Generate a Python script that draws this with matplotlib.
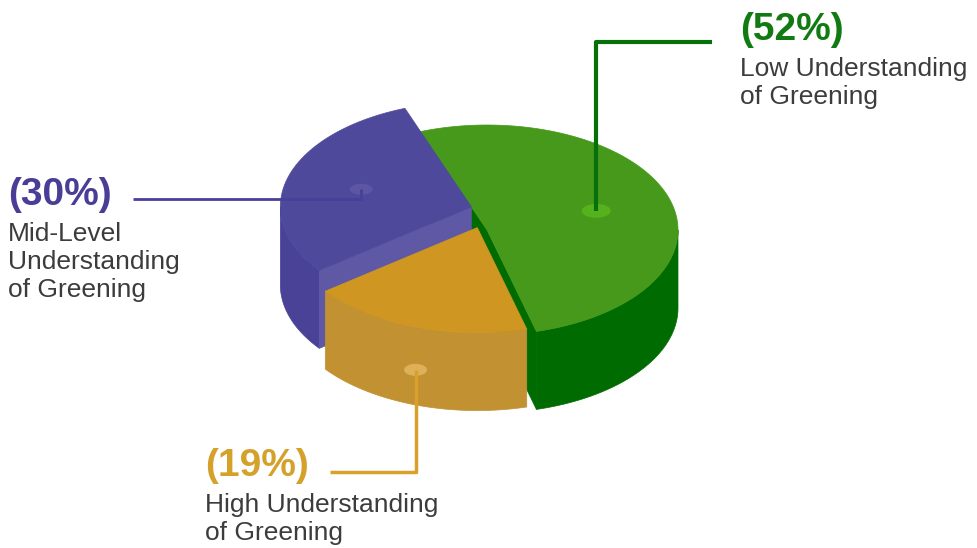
import numpy as np
import matplotlib.pyplot as plt
from matplotlib.patches import Polygon, Ellipse

plt.rcParams['font.family'] = ['Liberation Sans', 'DejaVu Sans']

# data
labels = ['Low Understanding\nof Greening', 'Mid-Level\nUnderstanding\nof Greening',
          'High Understanding\nof Greening']
values = [52, 30, 19]
pct_text = ['(52%)', '(30%)', '(19%)']

# styles
top_colors = ['#46991a', '#4f499c', '#cf9621']
wall_colors = ['#006b00', '#4a4297', '#c29131']
cut_colors = ['#006b00', '#5e58a5', '#c29131']
dot_colors = ['#55b11c', '#5d56a3', '#deb158']
label_colors = ['#127a12', '#4a3d97', '#d4a12b']
line_colors = ['#06700a', '#4a3f99', '#d9a12b']
line_widths = [3.0, 2.0, 2.5]
dot_sizes = [(29, 14), (23, 11), (23, 12)]

# layout in pixels
cx, cy = 487, 230
rx, ry, depth = 191, 105, 78
start = -75
explode = [0, 28, 10]           # pixels, purple slides along its upper edge
elbow = [42, 199, 472]          # y of the leader elbow
line_end = [712, 133, 330]      # x where the leader stops
text_pos = [(740, 12), (8, 177), (205, 448)]

fig = plt.figure(figsize=(9.77, 5.48), dpi=100)
ax = fig.add_axes([0, 0, 1, 1])
ax.set_xlim(0, 977)
ax.set_ylim(548, 0)
ax.axis('off')


def pt(c, t, r=1.0, dz=0.0):
    t = np.radians(t)
    return np.column_stack([c[0] + r * rx * np.cos(t), c[1] - r * ry * np.sin(t) + dz])


fracs = np.array(values) / sum(values) * 360
bounds = start + np.concatenate([[0], np.cumsum(fracs)])

# shift directions: purple along its shared edge with green, yellow to the left
dirs = []
for i in range(len(values)):
    if i == 1:
        v = pt((0, 0), [bounds[1]])[0]
    elif i == 2:
        v = np.array([-1.0, -0.25])
    else:
        v = np.array([0.0, 0.0])
    n = np.hypot(*v)
    dirs.append(v / n if n else v)

dots = []
for i in range(len(values)):
    a1, a2 = bounds[i], bounds[i + 1]
    c = (cx + explode[i] * dirs[i][0], cy + explode[i] * dirs[i][1])
    centre = np.array([c])
    # outer wall, only the front half
    for k in range(-1, 2):
        lo = max(a1, 180 + 360 * k)
        hi = min(a2, 360 + 360 * k)
        if hi > lo:
            ts = np.linspace(lo, hi, 80)
            top = pt(c, ts)
            bot = pt(c, ts[::-1], dz=depth)
            ax.add_patch(Polygon(np.vstack([top, bot]), closed=True,
                                 fc=wall_colors[i], ec=wall_colors[i], lw=0.5))
    # cut faces
    for a, visible in [(a1, np.cos(np.radians(a1)) > 0), (a2, np.cos(np.radians(a2)) < 0)]:
        if visible:
            e = pt(c, [a])
            face = np.vstack([centre, e, e + [0, depth], centre + [0, depth]])
            ax.add_patch(Polygon(face, closed=True, fc=cut_colors[i],
                                 ec=cut_colors[i], lw=0.5))
    # top face
    ts = np.linspace(a1, a2, 150)
    ax.add_patch(Polygon(np.vstack([centre, pt(c, ts)]), closed=True,
                         fc=top_colors[i], ec=top_colors[i], lw=0.5))
    mid = (a1 + a2) / 2
    if i == 2:
        d = pt(c, [mid], dz=depth * 0.55)[0]
    else:
        d = pt(c, [mid], r=0.6)[0]
    dots.append(d)

for i in range(len(values)):
    dx, dy = dots[i]
    ax.add_patch(Ellipse((dx, dy), *dot_sizes[i], fc=dot_colors[i], ec='none', zorder=4))
    ax.plot([dx, dx, line_end[i]], [dy, elbow[i], elbow[i]],
            color=line_colors[i], lw=line_widths[i], zorder=5, solid_capstyle='butt')
    tx, ty = text_pos[i]
    ax.text(tx, ty, pct_text[i], color=label_colors[i], fontsize=28,
            fontweight='bold', va='top', ha='left')
    ax.text(tx, ty + 45, labels[i], color='#3c3c3c', fontsize=19,
            va='top', ha='left', linespacing=1.22)

fig.savefig('out.png', dpi=100)
